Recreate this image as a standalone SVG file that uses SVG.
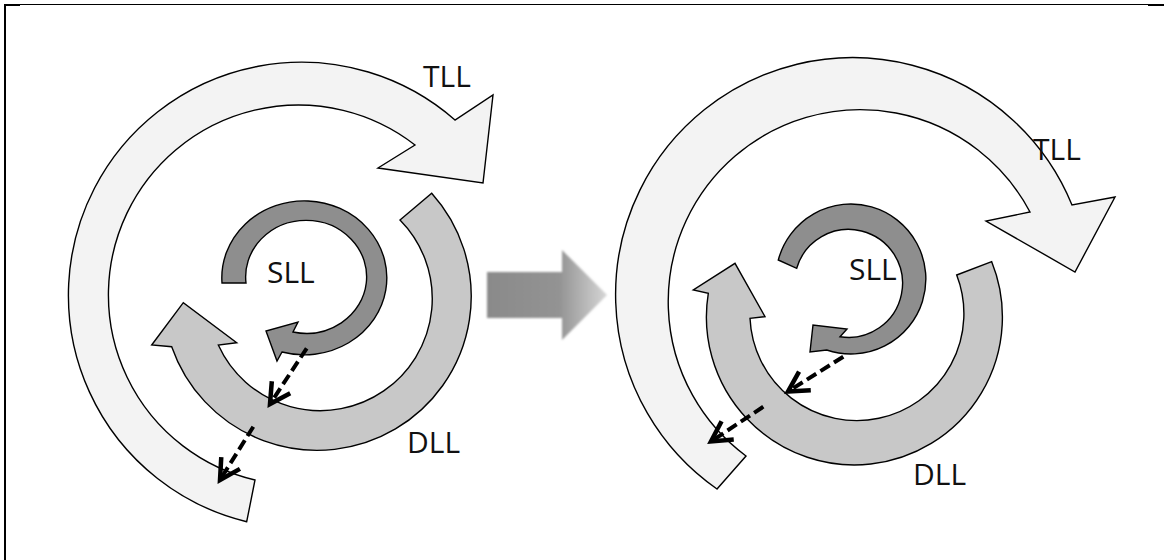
<svg xmlns="http://www.w3.org/2000/svg" width="1164" height="560" viewBox="0 0 1164 560">
  <style>
    .ring { stroke: #000; stroke-width: 1.4; stroke-linejoin: miter; }
    .tll { fill: #f3f3f3; }
    .dll { fill: #c8c8c8; }
    .sll { fill: #8e8e8e; }
    .lbl { font-family: "Open Sans", "Liberation Sans", sans-serif; font-size: 30px; fill: #111; }
    .dash { fill: none; stroke: #000; stroke-width: 4; stroke-dasharray: 11 5; marker-end: url(#vhead); }
  </style>
  <defs>
    <marker id="vhead" markerUnits="userSpaceOnUse" markerWidth="40" markerHeight="40" viewBox="-30 -20 40 40" refX="0" refY="0" orient="auto">
      <path d="M -20 -11 L 0 0 L -20 11" fill="none" stroke="#000" stroke-width="4.5"/>
    </marker>
    <linearGradient id="bigArrowFill" gradientUnits="userSpaceOnUse" x1="487" y1="295" x2="607" y2="295">
      <stop offset="0" stop-color="#8a8a8a"/>
      <stop offset="0.6" stop-color="#939393"/>
      <stop offset="1" stop-color="#d6d6d6"/>
    </linearGradient>
    <filter id="soft" x="-10%" y="-10%" width="120%" height="120%">
      <feGaussianBlur stdDeviation="1.2"/>
    </filter>
  </defs>

  <rect width="1164" height="560" fill="#fff"/>

  <!-- frame -->
  <g id="frame" fill="#000">
    <rect x="4" y="4" width="1160" height="1"/>
    <rect x="4" y="4" width="2" height="556"/>
    <rect x="4" y="4" width="16" height="2"/>
    <rect x="1148" y="4" width="16" height="2"/>
  </g>

  <!-- left panel -->
  <g id="left-tll">
    <path class="ring tll" d="M 246.7,521.7 A 233,233 0 1,1 455,120 L 493,95 L 483,183 L 378,168 L 415,145 A 190,190 0 1,0 255,480 Z"/>
    <text class="lbl" x="423" y="87">TLL</text>
  </g>
  <g id="left-dll">
    <path class="ring dll" d="M 431.7,193.3 A 154,154 0 1,1 171.7,346.7 L 151.7,345 L 183.3,302.7 L 236.7,342.7 L 218.3,345 A 112,112 0 1,0 400,220 Z"/>
    <text class="lbl" x="407" y="453">DLL</text>
  </g>
  <g id="left-sll">
    <path class="ring sll" d="M 222,283 A 82.5,77 0 1,1 282,352 L 277,361 L 266,331 L 298,322 L 293,332 A 60.5,56.5 0 1,0 246,283 Z"/>
    <text class="lbl" x="267" y="283">SLL</text>
  </g>

  <!-- transition arrow -->
  <g id="transition">
    <path d="M 487,272 L 562,272 L 562,250 L 607,295 L 562,340 L 562,318 L 487,318 Z" fill="url(#bigArrowFill)" filter="url(#soft)"/>
  </g>

  <!-- right panel -->
  <g id="right-tll">
    <path class="ring tll" d="M 717,489 A 237,237 0 1,1 1072,205 L 1115,197 L 1075,272 L 986,221 L 1030,212 A 192,192 0 1,0 746,456 Z"/>
    <text class="lbl" x="1033" y="160">TLL</text>
  </g>
  <g id="right-dll">
    <path class="ring dll" d="M 991.7,261.7 A 148,148 0 1,1 708.3,293.3 L 693.3,290 L 735,263.3 L 765,316.7 L 750,318.3 A 107,107 0 1,0 956.7,275 Z"/>
    <text class="lbl" x="913" y="485">DLL</text>
  </g>
  <g id="right-sll">
    <path class="ring sll" d="M 778.3,260 A 75,75 0 1,1 826.7,350 L 810,352 L 813,325 L 847,329 L 840,336.7 A 54,54 0 1,0 796.7,268.3 Z"/>
    <text class="lbl" x="849" y="280">SLL</text>
  </g>

  <!-- transfer connectors -->
  <g id="connectors">
    <line class="dash" x1="306.7" y1="348.3" x2="270" y2="404"/>
    <line class="dash" x1="253.3" y1="426.7" x2="220" y2="480"/>
    <line class="dash" x1="843.3" y1="356.7" x2="788" y2="391.5"/>
    <line class="dash" x1="763.3" y1="406.7" x2="711" y2="441.5"/>
  </g>
</svg>
